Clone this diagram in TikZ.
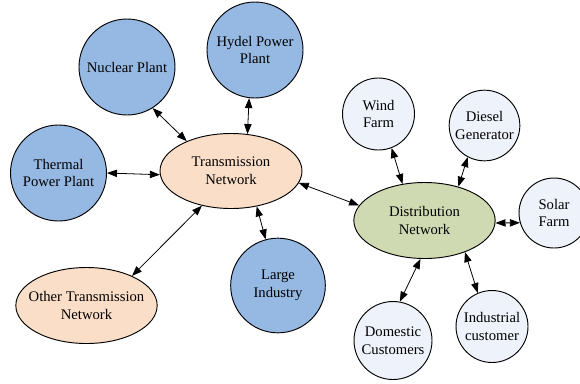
\documentclass[tikz,border=0pt]{standalone}
\usepackage{fontspec}
\setmainfont{Liberation Serif}
\usepackage{tikz}
\usetikzlibrary{shapes.geometric, arrows.meta}

\definecolor{plantblue}{RGB}{150,185,228}
\definecolor{netpeach}{RGB}{251,222,199}
\definecolor{distgreen}{RGB}{207,218,179}
\definecolor{leafgrey}{RGB}{238,242,250}

\tikzset{
  plant/.style={circle, draw=black, line width=0.7pt, fill=plantblue,
                minimum size=#1, inner sep=1pt, align=center},
  plant/.default=72pt,
  netw/.style={ellipse, draw=black, line width=0.7pt, fill=netpeach,
               minimum width=106pt, minimum height=57pt,
               inner xsep=-8pt, inner ysep=0pt, align=center},
  leaf/.style={circle, draw=black, line width=0.7pt, fill=leafgrey,
               minimum size=#1, inner sep=1pt, align=center},
  leaf/.default=54pt,
  link/.style={{Triangle[length=7.5pt,width=5.5pt]}-{Triangle[length=7.5pt,width=5.5pt]},
               line width=0.6pt},
}

\begin{document}
\begin{tikzpicture}[x=0.75pt, y=-0.75pt, font=\fontsize{11}{13.3}\selectfont]
\useasboundingbox (0,0) rectangle (580,383);

% ── transmission side ─────────────────────────────────────────────
\node[netw, minimum width=106.5pt, minimum height=56.25pt] (trans) at (231,171)
  {Transmission\\Network};
\node[plant] (nuclear) at (127,67) {Nuclear Plant};
\node[plant] (hydel) at (255,50) {Hydel Power\\Plant};
\node[plant] (thermal) at (58.5,173) {Thermal\\Power Plant};
\node[netw] (other) at (86.5,305.5) {Other Transmission\\Network};
\node[plant=71pt] (large) at (278,285.5) {Large\\Industry};

% ── distribution side ─────────────────────────────────────────────
\node[netw, fill=distgreen] (dist) at (424.5,220.5) {Distribution\\Network};
\node[leaf] (wind) at (378.5,114) {Wind\\Farm};
\node[leaf=53pt] (diesel) at (484.5,125.5) {Diesel\\Generator};
\node[leaf=52.5pt] (solar) at (554,213) {Solar\\Farm};
\node[leaf=58.5pt] (domestic) at (393,340.5) {Domestic\\Customers};
\node[leaf] (industrial) at (492,326.5) {Industrial\\customer};

% ── power flows (both ways) ───────────────────────────────────────
\draw[link] (nuclear.-58) -- (trans.146);
\draw[link] (hydel.-97) -- (trans.66);
\draw[link] (thermal.0) -- (trans.183);
\draw[link] (other.33) -- (trans.-130);
\draw[link] (large.105) -- (trans.-54);
\draw[link] (trans.-10) -- (dist.167);

\draw[link] (wind.-69) -- (dist.121);
\draw[link] (diesel.-118) -- (dist.45);
\draw[link] (dist.-2) -- (solar.196);
\draw[link] (dist.-96) -- (domestic.80);
\draw[link] (dist.-38) -- (industrial.113);

\end{tikzpicture}
\end{document}
